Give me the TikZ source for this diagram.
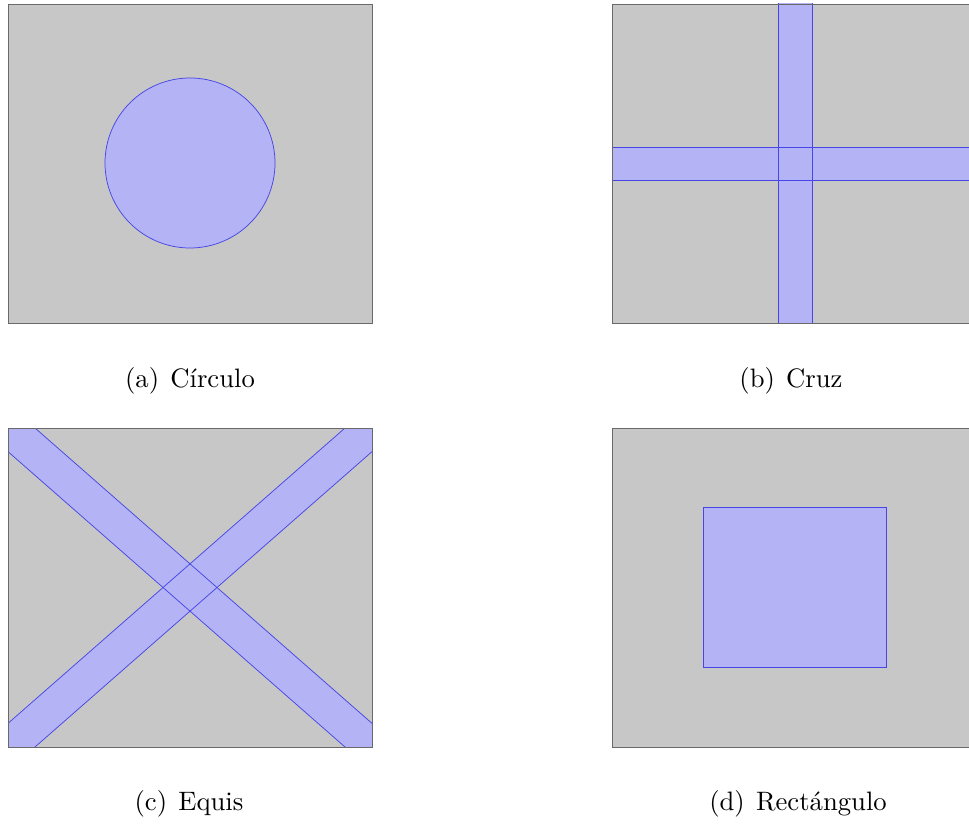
\documentclass[tikz,border=0pt]{standalone}
\begin{document}
\begin{tikzpicture}[x=0.75pt,y=-0.75pt,
  panel/.style={fill={rgb,255:red,199;green,199;blue,199}},
  panelborder/.style={draw={rgb,255:red,105;green,105;blue,105},line width=0.7pt},
  bandfill/.style={fill={rgb,255:red,179;green,179;blue,245}},
  bandedge/.style={draw={rgb,255:red,70;green,70;blue,230},line width=0.55pt},
  captext/.style={font=\fontsize{10}{12}\selectfont,scale=2}]
\useasboundingbox (0,0) rectangle (969,823);
\clip (0,0) rectangle (969,823);
% (a) circle
\fill[panel] (8,4) rectangle (372,323);
\path[bandfill,bandedge] (190,163) circle (85);
\draw[panelborder] (8,4) rectangle (372,323);
\node[captext] (ca) at (190,381) {(a)\hspace{0.42em}Círculo};
% (b) cross
\fill[panel] (612,4) rectangle (976,323);
\begin{scope}
\clip (612,4) rectangle (976,323);
\fill[bandfill] (778,-10) rectangle (812,340);
\fill[bandfill] (600,147) rectangle (990,180);
\draw[bandedge] (778,-10) rectangle (812,340);
\draw[bandedge] (600,147) rectangle (990,180);
\end{scope}
\draw[panelborder] (612,4) rectangle (976,323);
\node[captext] (cb) at (791,381) {(b)\hspace{0.42em}Cruz};
% (c) X
\fill[panel] (8,428) rectangle (372,747);
\begin{scope}
\clip (8,428) rectangle (372,747);
\fill[bandfill] (-37.8,364.2) -- (471.8,810.8) -- (417.8,810.8) -- (-91.8,364.2) -- cycle;
\fill[bandfill] (471.8,364.2) -- (-37.8,810.8) -- (-91.8,810.8) -- (417.8,364.2) -- cycle;
\draw[bandedge] (-37.8,364.2) -- (471.8,810.8) -- (417.8,810.8) -- (-91.8,364.2) -- cycle;
\draw[bandedge] (471.8,364.2) -- (-37.8,810.8) -- (-91.8,810.8) -- (417.8,364.2) -- cycle;
\end{scope}
\draw[panelborder] (8,428) rectangle (372,747);
\node[captext] (cc) at (189,804) {(c)\hspace{0.42em}Equis};
% (d) rectangle
\fill[panel] (612,428) rectangle (976,747);
\path[bandfill,bandedge] (703,507) rectangle (886,667);
\draw[panelborder] (612,428) rectangle (976,747);
\node[captext] (cd) at (798,804) {(d)\hspace{0.42em}Rectángulo};
\end{tikzpicture}
\end{document}
